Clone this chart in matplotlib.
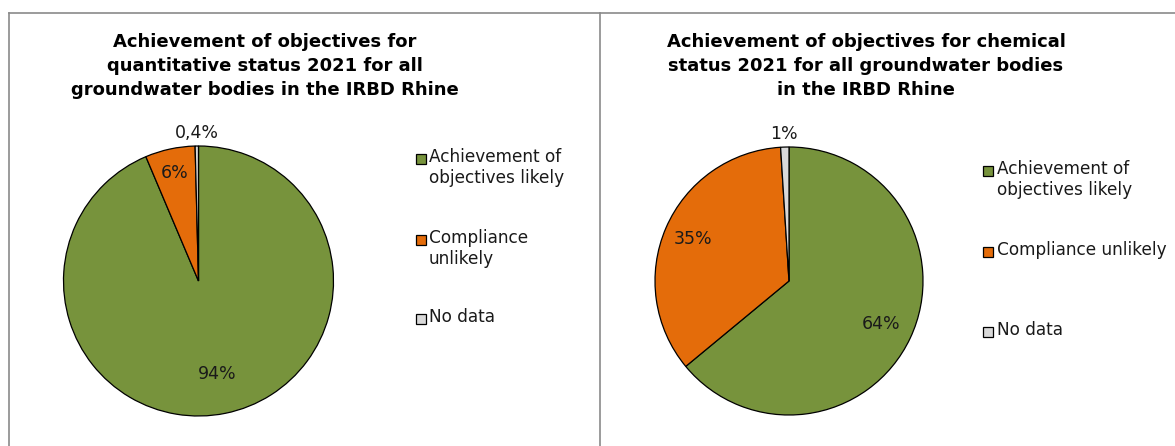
import matplotlib
matplotlib.use("Agg")
import matplotlib.pyplot as plt
from matplotlib.patches import Rectangle
from matplotlib.lines import Line2D
import numpy as np

# ---- data ----
categories = ["Achievement of\nobjectives likely", "Compliance\nunlikely", "No data"]
categories_right = ["Achievement of\nobjectives likely", "Compliance unlikely", "No data"]
quantitative_values = [94, 6, 0.4]
quantitative_labels = ["94%", "6%", "0,4%"]
chemical_values = [64, 35, 1]
chemical_labels = ["64%", "35%", "1%"]
title_left = "Achievement of objectives for\nquantitative status 2021 for all\ngroundwater bodies in the IRBD Rhine"
title_right = "Achievement of objectives for chemical\nstatus 2021 for all groundwater bodies\nin the IRBD Rhine"

colors = ["#77933C", "#E46C0A", "#D9D9D9"]

W, H = 1175, 446
fig = plt.figure(figsize=(W / 100, H / 100), dpi=100)
fig.patch.set_facecolor("white")


def px(x, y):
    """Pixel position (from top-left) to figure fraction."""
    return x / W, 1 - y / H


# panel borders
border = "#8A8A8A"
for xs, ys in [((9, 1175), (13, 13)), ((9, 9), (13, 446)), ((600, 600), (13, 446))]:
    x0, y0 = px(xs[0], ys[0])
    x1, y1 = px(xs[1], ys[1])
    fig.add_artist(Line2D([x0, x1], [y0, y1], color=border, lw=1.2,
                          transform=fig.transFigure))


def draw_pie(cx, cy, r, values, labels, label_dist):
    ax = fig.add_axes([(cx - r) / W, (H - cy - r) / H, 2 * r / W, 2 * r / H])
    wedges, _ = ax.pie(values, colors=colors, startangle=90, counterclock=False,
                       radius=1.0,
                       wedgeprops=dict(edgecolor="black", linewidth=0.9))
    ax.set_xlim(-1, 1)
    ax.set_ylim(-1, 1)
    ax.set_aspect("equal")
    ax.axis("off")
    for w, lab, d in zip(wedges, labels, label_dist):
        ang = np.deg2rad((w.theta1 + w.theta2) / 2)
        ax.text(d * np.cos(ang), d * np.sin(ang), lab, ha="center", va="center",
                fontsize=12.5, color="#1a1a1a", clip_on=False)
    return ax


draw_pie(198.5, 281, 135, quantitative_values, quantitative_labels, [0.70, 0.82, 1.10])
draw_pie(789, 281, 134, chemical_values, chemical_labels, [0.76, 0.78, 1.10])

# titles
tx, ty = px(265, 66)
fig.text(tx, ty, title_left, ha="center", va="center", fontsize=13,
         fontweight="bold", linespacing=1.42, color="black")
tx, ty = px(866, 66)
fig.text(tx, ty, title_right, ha="center", va="center", fontsize=13,
         fontweight="bold", linespacing=1.42, color="black")


def draw_legend(x_box, x_text, y_centers, labels):
    for yc, lab, col in zip(y_centers, labels, colors):
        bx, by = px(x_box, yc + 5)
        fig.add_artist(Rectangle((bx, by), 10 / W, 10 / H, transform=fig.transFigure,
                                 facecolor=col, edgecolor="black", linewidth=0.9))
        tx, ty = px(x_text, yc - 10.5)
        fig.text(tx, ty, lab, ha="left", va="top", fontsize=12.2,
                 linespacing=1.2, color="#1a1a1a")


draw_legend(416, 429, [158.5, 239.5, 319], categories)
draw_legend(983, 997, [171, 251.5, 331.5], categories_right)

fig.savefig("out.png", dpi=100, facecolor="white")
